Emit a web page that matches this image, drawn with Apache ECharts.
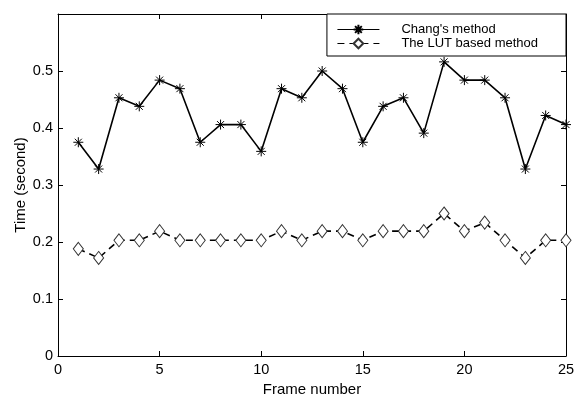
<!DOCTYPE html>
<html>
<head>
<meta charset="utf-8">
<script src="https://cdn.jsdelivr.net/npm/echarts@6/dist/echarts.min.js"></script>
<style>
  html, body { margin: 0; padding: 0; background: #fff; }
  #chart { width: 575px; height: 395px; }
</style>
</head>
<body>
<div id="chart"></div>
<script>
// frame index 1..25
var frames = [1,2,3,4,5,6,7,8,9,10,11,12,13,14,15,16,17,18,19,20,21,22,23,24,25];
// times (they sit on a 1/64 s grid)
var changTimes = [0.375,0.328,0.453,0.438,0.484,0.469,0.375,0.406,0.406,0.359,
                  0.469,0.453,0.5,0.469,0.375,0.438,0.453,0.391,0.516,0.484,
                  0.484,0.453,0.328,0.422,0.406];
var lutTimes = [0.188,0.172,0.203,0.203,0.219,0.203,0.203,0.203,0.203,0.203,
                0.219,0.203,0.219,0.219,0.203,0.219,0.219,0.219,0.25,0.219,
                0.234,0.203,0.172,0.203,0.203];

var font = 'Liberation Sans, Arial, sans-serif';
var asterisk = 'path://M0,-10L0,10M-10,0L10,0M-7,-7L7,7M-7,7L7,-7';

function pairs(ys){
    return frames.map(function (f, i) { return [f, ys[i]]; });
}

// mirrored box axes, no labels
function boxAxis(pos, max, step){
    return {
        type: 'value', min: 0, max: max, interval: step, position: pos,
        axisLine: {show: true, onZero: false, lineStyle: {color: '#000', width: 1}},
        axisTick: {show: true, inside: true, length: 5, lineStyle: {color: '#000'}},
        axisLabel: {show: false},
        splitLine: {show: false}
    };
}

var chart = echarts.init(document.getElementById('chart'));
var option = {
    animation: false,
    backgroundColor: '#fff',
    textStyle: {fontFamily: font},
    grid: {left: 58, right: 9, top: 14, bottom: 39, outerBoundsMode: 'none'},
    legend: {
        right: 9,
        top: 14,
        orient: 'vertical',
        itemWidth: 42,
        itemHeight: 12,
        itemGap: 1,
        padding: [9, 28, 6, 10],
        borderColor: '#000',
        borderWidth: 1,
        borderRadius: 0,
        backgroundColor: '#fff',
        lineStyle: {width: 1},
        textStyle: {fontFamily: font, fontSize: 13, color: '#000', padding: [0, 0, 0, 17]},
        data: ["Chang's method", 'The LUT based method']
    },
    xAxis: [{
        type: 'value', min: 0, max: 25, interval: 5,
        name: 'Frame number', nameLocation: 'middle', nameGap: 20,
        nameTextStyle: {fontFamily: font, fontSize: 15, color: '#000'},
        axisLine: {onZero: false, lineStyle: {color: '#000', width: 1}},
        axisTick: {inside: true, length: 5, lineStyle: {color: '#000'}},
        axisLabel: {fontFamily: font, fontSize: 14.5, color: '#000', margin: 6},
        splitLine: {show: false}
    }, boxAxis('top', 25, 5)],
    yAxis: [{
        type: 'value', min: 0, max: 0.6, interval: 0.1,
        name: 'Time (second)', nameLocation: 'middle', nameGap: 30,
        nameMoveOverlap: false,
        nameTextStyle: {fontFamily: font, fontSize: 15, color: '#000'},
        axisLine: {show: true, onZero: false, lineStyle: {color: '#000', width: 1}},
        axisTick: {show: true, inside: true, length: 5, lineStyle: {color: '#000'}},
        axisLabel: {
            fontFamily: font, fontSize: 14.5, color: '#000', margin: 5,
            formatter: function (v) { return v > 0.59 ? '' : String(+v.toFixed(1)); }
        },
        splitLine: {show: false}
    }, boxAxis('right', 0.6, 0.1)],
    series: [{
        name: "Chang's method",
        type: 'line',
        data: pairs(changTimes),
        symbol: asterisk,
        symbolSize: 10,
        lineStyle: {color: '#000', width: 1.6},
        itemStyle: {color: '#000', borderColor: '#000', borderWidth: 1}
    }, {
        name: 'The LUT based method',
        type: 'line',
        data: pairs(lutTimes),
        symbol: 'diamond',
        symbolSize: [10, 13],
        lineStyle: {color: '#000', width: 1.6, type: [7, 5]},
        itemStyle: {color: '#fff', borderColor: '#333', borderWidth: 1}
    }]
};
chart.setOption(option, true);
window.onresize = chart.resize;
</script>
</body>
</html>
